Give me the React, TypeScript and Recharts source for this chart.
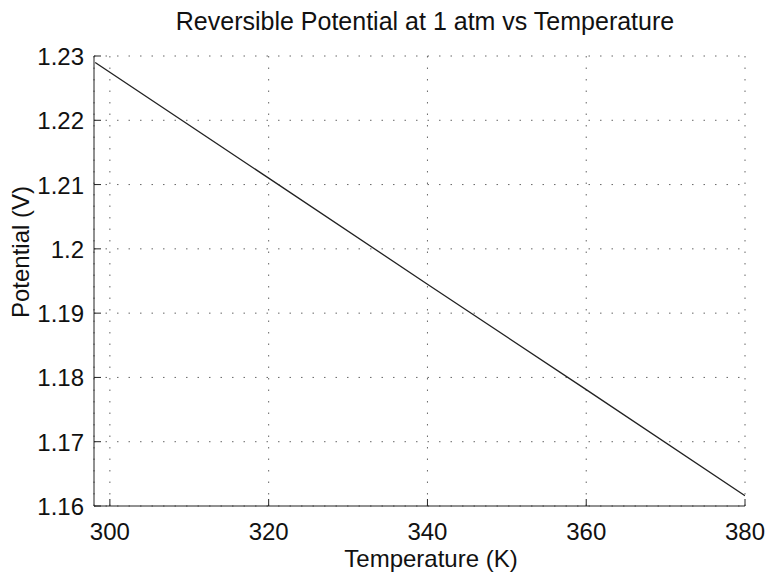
import { LineChart, Line, XAxis, YAxis, CartesianGrid } from 'recharts';

const temperatures = [298.15, 320, 340, 360, 380];
const potentials = [1.229, 1.211, 1.1945, 1.1781, 1.1616];
const xTicks = [300, 320, 340, 360, 380];
const yTicks = [1.16, 1.17, 1.18, 1.19, 1.2, 1.21, 1.22, 1.23];

const data = temperatures.map((t, i) => ({ t, v: potentials[i] }));

const FONT = '"Liberation Sans", Arial, Helvetica, sans-serif';
const fmtY = (v: number) => String(Number(v.toFixed(2)));

const BottomTick = (props: any) => {
  const { x, y, payload } = props;
  return (
    <g>
      <line x1={x} y1={y} x2={x} y2={y - 7} stroke="#222" />
      <text x={x} y={y + 34} textAnchor="middle" fontSize={24} fill="#111" fontFamily={FONT}>
        {payload.value}
      </text>
    </g>
  );
};

const TopTick = (props: any) => {
  const { x, y } = props;
  return <line x1={x} y1={y} x2={x} y2={y + 7} stroke="#222" />;
};

const LeftTick = (props: any) => {
  const { x, y, payload } = props;
  return (
    <g>
      <line x1={x} y1={y} x2={x + 7} y2={y} stroke="#222" />
      <text x={x - 10} y={y + 9} textAnchor="end" fontSize={24} fill="#111" fontFamily={FONT}>
        {fmtY(payload.value)}
      </text>
    </g>
  );
};

const RightTick = (props: any) => {
  const { x, y } = props;
  return <line x1={x} y1={y} x2={x - 7} y2={y} stroke="#222" />;
};

export default function App() {
  return (
    <div style={{ position: 'relative', width: 768, height: 577, background: '#fff', fontFamily: FONT }}>
      <style>{'body{margin:0}'}</style>
      <div style={{ position: 'absolute', left: 0, width: 850, top: 7, textAlign: 'center', fontSize: 25, color: '#111' }}>
        Reversible Potential at 1 atm vs Temperature
      </div>
      <LineChart width={768} height={577} data={data} margin={{ top: 56, right: 23, bottom: 0, left: 0 }}>
        <CartesianGrid xAxisId="b" yAxisId="l" stroke="#666" strokeDasharray="1.5 10" />
        <XAxis
          xAxisId="b"
          dataKey="t"
          type="number"
          domain={[298, 380]}
          ticks={xTicks}
          allowDataOverflow
          tickSize={0}
          tickMargin={0}
          tick={<BottomTick />}
          axisLine={{ stroke: '#222' }}
          height={71}
          interval={0}
        />
        <XAxis
          xAxisId="t"
          orientation="top"
          dataKey="t"
          type="number"
          domain={[298, 380]}
          ticks={xTicks}
          allowDataOverflow
          tickSize={0}
          tickMargin={0}
          tick={<TopTick />}
          axisLine={{ stroke: '#222' }}
          height={0}
          interval={0}
        />
        <YAxis
          yAxisId="l"
          type="number"
          domain={[1.16, 1.23]}
          ticks={yTicks}
          allowDataOverflow
          tickSize={0}
          tickMargin={0}
          tick={<LeftTick />}
          axisLine={{ stroke: '#222' }}
          width={94}
          interval={0}
        />
        <YAxis
          yAxisId="r"
          orientation="right"
          type="number"
          domain={[1.16, 1.23]}
          ticks={yTicks}
          allowDataOverflow
          tickSize={0}
          tickMargin={0}
          tick={<RightTick />}
          axisLine={{ stroke: '#222' }}
          width={0}
          interval={0}
        />
        <Line
          xAxisId="b"
          yAxisId="l"
          dataKey="v"
          stroke="#222"
          strokeWidth={1.3}
          dot={false}
          isAnimationActive={false}
          type="linear"
        />
      </LineChart>
      <div
        style={{
          position: 'absolute',
          left: 0,
          width: 862,
          top: 547,
          lineHeight: '24px',
          textAlign: 'center',
          fontSize: 24,
          color: '#111',
        }}
      >
        Temperature (K)
      </div>
      <div
        style={{
          position: 'absolute',
          left: 21,
          top: 252,
          transform: 'translate(-50%, -50%) rotate(-90deg)',
          whiteSpace: 'nowrap',
          lineHeight: '24px',
          fontSize: 24,
          color: '#111',
        }}
      >
        Potential (V)
      </div>
    </div>
  );
}
